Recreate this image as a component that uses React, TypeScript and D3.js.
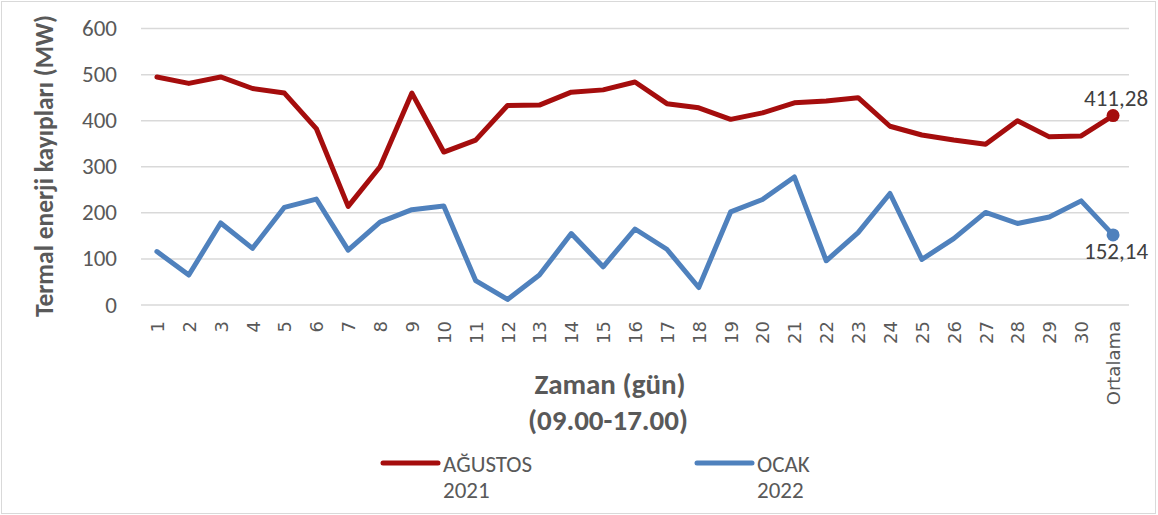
import { useEffect, useRef } from 'react';
import * as d3 from 'd3';

const days = [
  '1', '2', '3', '4', '5', '6', '7', '8', '9', '10', '11', '12', '13', '14', '15',
  '16', '17', '18', '19', '20', '21', '22', '23', '24', '25', '26', '27', '28', '29', '30',
  'Ortalama',
];

const agustos2021 = [
  495, 481, 495, 470, 460, 383, 214, 300, 460, 332, 358, 433, 434, 462, 467,
  484, 437, 428, 403, 417, 439, 443, 450, 388, 369, 358, 349, 400, 365, 367,
  411.28,
];

const ocak2022 = [
  116, 65, 178, 123, 212, 230, 119, 180, 207, 215, 53, 12, 65, 155, 83,
  165, 121, 38, 202, 229, 278, 96, 157, 242, 99, 144, 201, 177, 191, 226,
  152.14,
];

const yTicks = [0, 100, 200, 300, 400, 500, 600];

const W = 1158;
const H = 515;
const TEXT = '#595959';
const FONT = "Carlito, Calibri, 'Open Sans', 'Noto Sans', sans-serif";

export default function App() {
  const svgRef = useRef<SVGSVGElement>(null);

  useEffect(() => {
    if (!svgRef.current) return;
    const svg = d3.select(svgRef.current);
    svg.selectAll('*').remove();

    const x = d3.scalePoint<string>().domain(days).range([141, 1129]).padding(0.5);
    const y = d3.scaleLinear().domain([0, 600]).range([305, 28.6]);

    // cerceve
    svg.append('rect')
      .attr('x', 1.5).attr('y', 1.5)
      .attr('width', W - 4).attr('height', H - 3)
      .attr('fill', 'white')
      .attr('stroke', '#d9d9d9')
      .attr('stroke-width', 1);

    // grid
    svg.append('g')
      .selectAll('line')
      .data(yTicks)
      .enter()
      .append('line')
      .attr('x1', 141).attr('x2', 1129)
      .attr('y1', d => y(d)).attr('y2', d => y(d))
      .attr('stroke', '#d9d9d9')
      .attr('stroke-width', 1.5);

    // y etiketleri
    svg.append('g')
      .selectAll('text')
      .data(yTicks)
      .enter()
      .append('text')
      .attr('x', 117)
      .attr('y', d => y(d) + 7.5)
      .attr('text-anchor', 'end')
      .attr('fill', TEXT)
      .style('font-family', FONT)
      .style('font-size', '23px')
      .text(d => d);

    // x etiketleri (dikey)
    svg.append('g')
      .selectAll('text')
      .data(days)
      .enter()
      .append('text')
      .attr('transform', d => `translate(${x(d)! + 7}, 321) rotate(-90)`)
      .attr('text-anchor', 'end')
      .attr('fill', TEXT)
      .style('font-family', "'DejaVu Sans', Verdana, sans-serif")
      .style('font-size', '18px')
      .text(d => d);

    // eksen basliklari
    svg.append('text')
      .attr('transform', 'translate(53, 166) rotate(-90)')
      .attr('text-anchor', 'middle')
      .attr('fill', TEXT)
      .style('font-family', FONT)
      .style('font-size', '25.5px')
      .style('font-weight', 'bold')
      .text('Termal enerji kayıpları (MW)');

    svg.append('text')
      .attr('x', 610).attr('y', 394)
      .attr('text-anchor', 'middle')
      .attr('fill', TEXT)
      .style('font-family', FONT)
      .style('font-size', '29px')
      .style('font-weight', 'bold')
      .text('Zaman (gün)');

    svg.append('text')
      .attr('x', 608).attr('y', 430)
      .attr('text-anchor', 'middle')
      .attr('fill', TEXT)
      .style('font-family', FONT)
      .style('font-size', '29px')
      .style('font-weight', 'bold')
      .text('(09.00-17.00)');

    const series = [
      { name: 'AĞUSTOS', year: '2021', values: agustos2021, color: '#a50d0d', legendX: 383, labelY: 106 },
      { name: 'OCAK', year: '2022', values: ocak2022, color: '#4f81bd', legendX: 697, labelY: 259 },
    ];

    const line = d3.line<number>()
      .x((_, i) => x(days[i])!)
      .y(d => y(d));

    series.forEach(s => {
      svg.append('path')
        .datum(s.values)
        .attr('d', line)
        .attr('fill', 'none')
        .attr('stroke', s.color)
        .attr('stroke-width', 5)
        .attr('stroke-linejoin', 'round')
        .attr('stroke-linecap', 'round');

      const last = s.values[s.values.length - 1];
      const lx = x(days[days.length - 1])!;
      svg.append('circle')
        .attr('cx', lx).attr('cy', y(last))
        .attr('r', 6.5)
        .attr('fill', s.color);

      svg.append('text')
        .attr('x', lx + 3).attr('y', s.labelY)
        .attr('text-anchor', 'middle')
        .attr('fill', '#404040')
        .style('font-family', FONT)
        .style('font-size', '23px')
        .text(d3.format('.2f')(last).replace('.', ','));

      // lejant
      svg.append('line')
        .attr('x1', s.legendX).attr('x2', s.legendX + 55)
        .attr('y1', 463).attr('y2', 463)
        .attr('stroke', s.color)
        .attr('stroke-width', 5)
        .attr('stroke-linecap', 'round');

      svg.append('text')
        .attr('x', s.legendX + 60).attr('y', 471.5)
        .attr('fill', TEXT)
        .style('font-family', FONT)
        .style('font-size', '23px')
        .text(s.name);

      svg.append('text')
        .attr('x', s.legendX + 60).attr('y', 498)
        .attr('fill', TEXT)
        .style('font-family', FONT)
        .style('font-size', '23px')
        .text(s.year);
    });
  }, []);

  return (
    <div style={{ position: 'absolute', left: 0, top: 0 }}>
      <svg ref={svgRef} width={W} height={H} style={{ display: 'block' }}></svg>
    </div>
  );
}
